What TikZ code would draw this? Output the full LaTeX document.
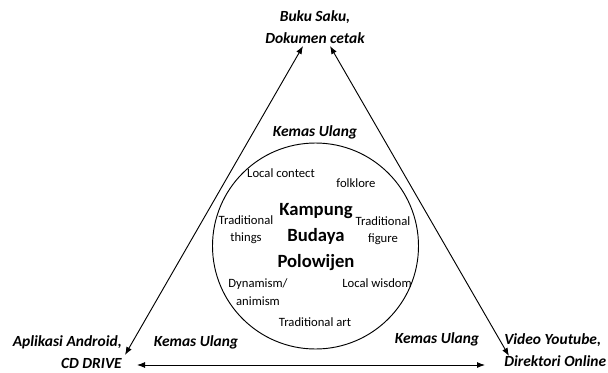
\documentclass[tikz,border=0pt]{standalone}
\usepackage{fontspec}
\setmainfont{Carlito}
\usetikzlibrary{arrows.meta, positioning}

\begin{document}
\begin{tikzpicture}[
    x=0.75pt, y=-0.75pt,
    corner/.style={font=\fontsize{11.6pt}{16pt}\selectfont\bfseries\itshape, inner sep=0pt},
    repack/.style={font=\fontsize{11.6pt}{13pt}\selectfont\bfseries\itshape, inner sep=0pt},
    item/.style={font=\fontsize{9.5pt}{13pt}\selectfont, align=center, inner sep=0pt},
    arrow/.style={{Latex[length=6pt,width=4.5pt]}-{Latex[length=6pt,width=4.5pt]}, line width=0.7pt}
]
    \useasboundingbox (0,0) rectangle (608,372);

    % --- CORNERS ---
    \node[corner, align=center] (buku) at (315,27) {Buku Saku,\\Dokumen cetak};
    \node[corner, align=right, anchor=east] (aplikasi) at (122,352) {Aplikasi Android,\\CD DRIVE};
    \node[corner, align=left, anchor=west] (video) at (504,350) {Video Youtube,\\Direktori Online};

    % arrow ends
    \coordinate (bukuL) at (303,46);
    \coordinate (bukuR) at (330,46);
    \coordinate (aplikasiT) at (125,355);
    \coordinate (aplikasiR) at (137,365);
    \coordinate (videoT) at (509,356);
    \coordinate (videoL) at (485,365);

    \draw[arrow] (aplikasiT) -- (bukuL);
    \draw[arrow] (bukuR) -- (videoT);
    \draw[arrow] (aplikasiR) -- (videoL);

    % --- KEMAS ULANG ---
    \node[repack] (ulangT) at (315,132) {Kemas Ulang};
    \node[repack] (ulangL) at (196,342) {Kemas Ulang};
    \node[repack] (ulangR) at (437,339) {Kemas Ulang};

    % --- CIRCLE ---
    \node[draw, circle, line width=0.7pt, minimum size=154.5pt, inner sep=0pt] (circ) at (315.5,246) {};
    \node[align=center, inner sep=0pt, font=\fontsize{14pt}{19.5pt}\selectfont\bfseries] (kbp) at (316,237) {Kampung\\Budaya\\Polowijen};

    \node[item] (local) at (281,173) {Local contect};
    \node[item] (folk) at (356,183) {folklore};
    \node[item] (things) at (246,230) {Traditional\\things};
    \node[item] (figure) at (383,231) {Traditional\\figure};
    \node[item] (dyna) at (258,292) {Dynamism/\\animism};
    \node[item] (wisdom) at (377,283) {Local wisdom};
    \node[item] (art) at (315,322) {Traditional art};

\end{tikzpicture}
\end{document}
